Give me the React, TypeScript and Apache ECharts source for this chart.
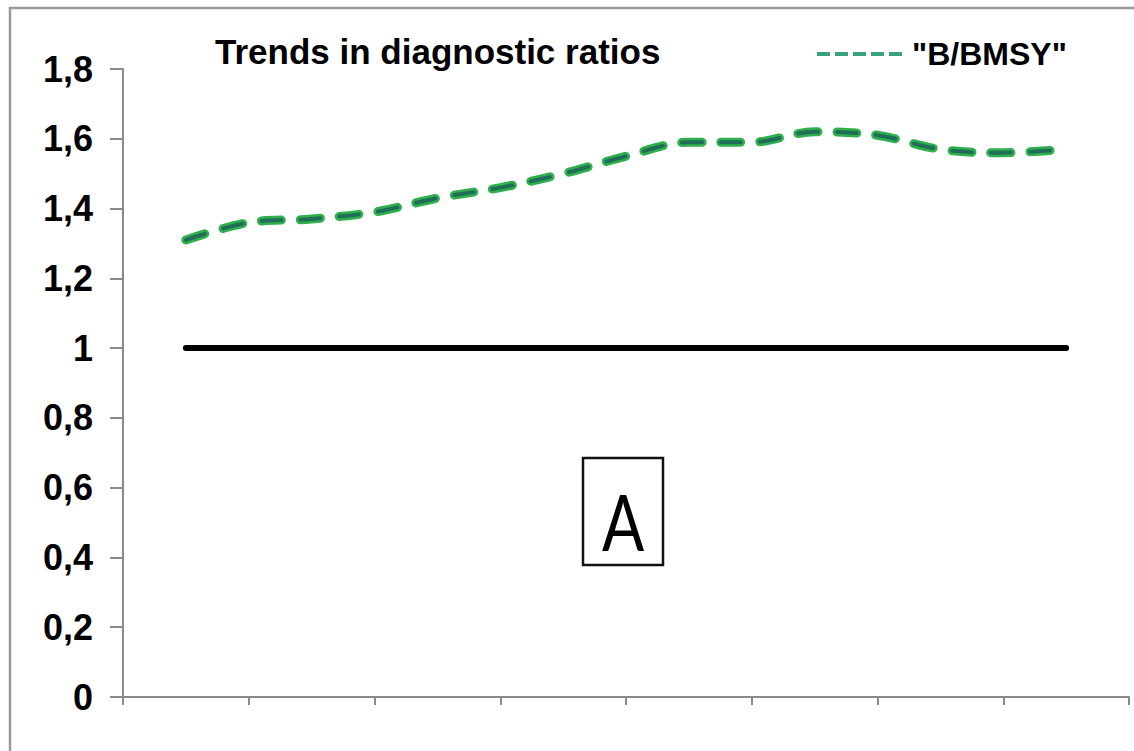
import React, { useEffect, useRef } from "react";
import * as echarts from "echarts";

// Data
const years = [1, 2, 3, 4, 5, 6, 7, 8, 9, 10, 11, 12, 13, 14, 15];
const bBmsy = [1.31, 1.36, 1.37, 1.39, 1.43, 1.46, 1.5, 1.55, 1.59, 1.59, 1.62, 1.61, 1.57, 1.56, 1.57];
const referenceLevel = 1;
const yTicks = [0, 0.2, 0.4, 0.6, 0.8, 1, 1.2, 1.4, 1.6, 1.8];
const titleText = "Trends in diagnostic ratios";
const seriesName = '"B/BMSY"';
const panelLabel = "A";

const FONT = "'Liberation Sans', Arial, sans-serif";

export default function App() {
  const ref = useRef<HTMLDivElement>(null);
  useEffect(() => {
    if (!ref.current) return;
    const chart = echarts.init(ref.current, undefined, { renderer: "svg" });
    const ratioData = years.map((x, i) => [x, bBmsy[i]]);
    const refData = years.map((x) => [x, referenceLevel]);
    const dash = [20, 19];
    chart.setOption({
      animation: false,
      backgroundColor: "#ffffff",
      title: {
        text: titleText,
        left: 210,
        top: 29,
        textStyle: { fontFamily: FONT, fontWeight: "bold", fontSize: 35, color: "#000" },
      },
      legend: {
        data: [seriesName],
        left: 810,
        top: 33,
        width: 320,
        itemWidth: 90,
        itemHeight: 14,
        itemGap: 8,
        textStyle: { fontFamily: FONT, fontWeight: "bold", fontSize: 32, color: "#000" },
        lineStyle: { width: 4, type: [13, 5], color: "#38a37a", cap: "butt" },
        itemStyle: { color: "rgba(0,0,0,0)", borderWidth: 0, opacity: 0 },
        selectedMode: false,
      },
      grid: { left: 123, top: 69, right: 5, bottom: 54 },
      xAxis: {
        type: "value",
        min: 0,
        max: 16,
        interval: 2,
        axisLine: { show: true, lineStyle: { color: "#8a8a8a", width: 2 } },
        axisTick: { show: true, length: 8, lineStyle: { color: "#8a8a8a", width: 2 } },
        axisLabel: { show: false },
        splitLine: { show: false },
      },
      yAxis: {
        type: "value",
        min: yTicks[0],
        max: yTicks[yTicks.length - 1],
        interval: 0.2,
        axisLine: { show: true, lineStyle: { color: "#8a8a8a", width: 2 } },
        axisTick: { show: true, length: 13, lineStyle: { color: "#8a8a8a", width: 2 } },
        axisLabel: {
          margin: 30,
          fontFamily: FONT,
          fontWeight: "bold",
          fontSize: 36,
          color: "#000",
          formatter: (v: number) => {
            const r = Math.round(v * 10) / 10;
            return Number.isInteger(r) ? String(r) : r.toFixed(1).replace(".", ",");
          },
        },
        splitLine: { show: false },
      },
      series: [
        {
          name: "reference",
          type: "line",
          data: refData,
          symbol: "none",
          lineStyle: { color: "#000", width: 6, cap: "round" },
          silent: true,
        },
        {
          name: seriesName,
          type: "line",
          data: ratioData,
          smooth: 0.35,
          symbol: "none",
          color: "#30b04c",
          lineStyle: { color: "#30b04c", width: 9, type: dash, cap: "round" },
        },
        {
          name: "inner",
          type: "line",
          data: ratioData,
          smooth: 0.35,
          symbol: "none",
          color: "#1f6e58",
          lineStyle: { color: "#1f6e58", width: 4, type: dash, cap: "round" },
        },
      ],
      graphic: [
        {
          type: "rect",
          shape: { x: 10, y: 8, width: 1300, height: 900 },
          style: { fill: "none", stroke: "#9a9a9a", lineWidth: 2.5 },
          silent: true,
        },
        {
          type: "rect",
          shape: { x: 583, y: 458, width: 80, height: 107 },
          style: { fill: "#fff", stroke: "#111", lineWidth: 2.5 },
          silent: true,
        },
        {
          type: "text",
          x: 623,
          y: 521,
          scaleX: 0.8,
          style: {
            text: panelLabel,
            fontFamily: "Lato, 'Open Sans', sans-serif",
            fontSize: 78,
            fill: "#000",
            textAlign: "center",
            textVerticalAlign: "middle",
          },
          silent: true,
        },
      ],
    });
    return () => chart.dispose();
  }, []);
  return (
    <div
      ref={ref}
      style={{ position: "fixed", left: 0, top: 0, width: 1134, height: 751, background: "#fff" }}
    />
  );
}
